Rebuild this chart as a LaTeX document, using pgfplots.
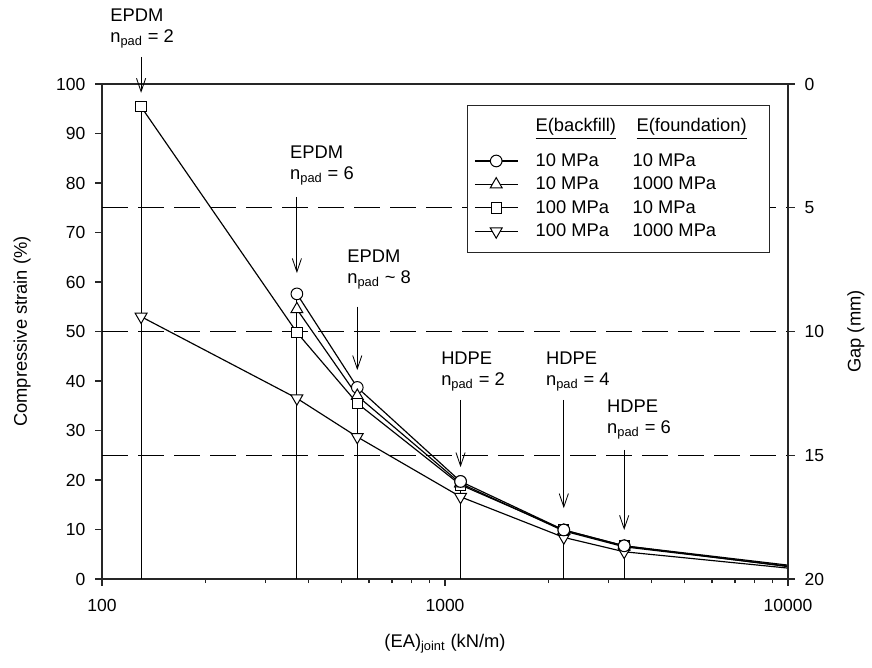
\documentclass[border=0pt]{standalone}
\usepackage{fontspec}
\setmainfont{Liberation Sans}
\usepackage{pgfplots}
\pgfplotsset{compat=1.18}
\usetikzlibrary{arrows.meta,calc}

\newcommand{\lab}{\fontsize{11}{12.5}\selectfont}
\newcommand{\col}[2]{\hspace*{8.5pt}\makebox[58.2pt][l]{#1}\makebox[76pt][l]{#2}}

\begin{document}
\begin{tikzpicture}
\pgfplotsset{
  plotframe/.style={
    tick align=outside,
    major tick length=4pt, minor tick length=2.5pt,
    axis line style={black!85, line width=0.9pt},
    every tick/.style={black!85, line width=0.8pt},
    tick label style={font=\fontsize{10.5}{12}\selectfont},
    /pgf/number format/assume math mode=true,
    label style={font=\lab},
  },
  ser/.style={black, line width=0.7pt, mark size=#1,
    mark options={solid, fill=white, line width=0.6pt}},
  tail/.style={black, line width=0.7pt, forget plot, no marks},
}
\tikzset{
  ann/.style={anchor=north west, inner sep=0pt, align=left, font=\lab},
  arr/.style={-{Straight Barb[length=8pt,width=5.5pt]}, line width=0.5pt},
}
\begin{axis}[
  width=411.6pt, height=297pt, scale only axis,
  xmode=log, xmin=100, xmax=10000,
  plotframe, clip=false,
  ymin=0, ymax=100,
  xtick={100,1000,10000}, xticklabels={100,1000,10000},
  ytick={0,10,...,100},
  xtick pos=bottom, ytick pos=left,
  xticklabel style={yshift=-4.5pt},
  yticklabel style={xshift=-2.5pt},
  xlabel={(EA)\textsubscript{joint} (kN/m)},
  ylabel={Compressive strain (\%)},
  xlabel style={at={(axis description cs:0.5,-0.139)}, anchor=base},
  ylabel style={at={(axis description cs:-0.1166,0.5)}, anchor=center},
  legend style={at={(rel axis cs:0.532,0.958)}, anchor=north west,
    draw=black!85, line width=0.8pt, font=\lab,
    inner xsep=4pt, inner ysep=5.5pt, row sep=0pt,
    nodes={inner xsep=2pt, inner ysep=2.45pt, text depth=0.15em},
    cells={anchor=west}},
  legend image code/.code={
    \draw[mark repeat=2,mark phase=2]
      plot coordinates {(0cm,0cm) (0.45cm,0cm) (0.9cm,0cm)};},
]
% reference lines
\addplot[forget plot, black, line width=0.6pt, dash pattern=on 15.6pt off 6pt]
  coordinates {(100,75) (10000,75)};
\addplot[forget plot, black, line width=0.6pt, dash pattern=on 15.6pt off 6pt]
  coordinates {(100,50) (10000,50)};
\addplot[forget plot, black, line width=0.6pt, dash pattern=on 15.6pt off 6pt]
  coordinates {(100,25) (10000,25)};
% drop lines
\addplot[forget plot, ycomb, black, line width=0.5pt, no marks]
  coordinates {(130,95.4) (370,57.6) (555,38.7) (1110,19.7) (2220,9.9) (3330,6.7)};

% legend header and spacer row
\addlegendimage{empty legend}
\addlegendentry{\hspace*{8.5pt}\makebox[60.6pt][l]{\underline{E(backfill)}}\makebox[73.6pt][l]{\underline{E(foundation)}}}
\addlegendimage{empty legend}
\addlegendentry{\mbox{}}

% tails to 10000 (no markers)
\addplot[tail] coordinates {(3330,6.7) (10000,2.8)};
\addplot[tail] coordinates {(3330,6.5) (10000,2.6)};
\addplot[tail] coordinates {(3330,6.7) (10000,2.5)};
\addplot[tail] coordinates {(3330,5.5) (10000,2.2)};

\addplot[ser=3.5pt, mark=*]
  coordinates {(370,57.6) (555,38.7) (1110,19.7) (2220,9.9) (3330,6.7)};
\addlegendentry{\col{10 MPa}{10 MPa}}
\addplot[ser=4.1pt, mark=triangle*]
  coordinates {(370,54.5) (555,37.0) (1110,19.3) (2220,9.7) (3330,6.5)};
\addlegendentry{\col{10 MPa}{1000 MPa}}
\addplot[ser=3.1pt, mark=square*]
  coordinates {(130,95.4) (370,49.8) (555,35.5) (1110,19.0) (2220,9.9) (3330,6.7)};
\addlegendentry{\col{100 MPa}{10 MPa}}
\addplot[ser=4.1pt, mark=triangle*,
  mark options={solid, fill=white, line width=0.6pt, rotate=180}]
  coordinates {(130,53.0) (370,36.5) (555,28.7) (1110,16.6) (2220,8.4) (3330,5.5)};
\addlegendentry{\col{100 MPa}{1000 MPa}}

% redraw markers so circles sit on top
\addplot[ser=3.1pt, mark=square*, only marks, forget plot]
  coordinates {(1110,19.0) (2220,9.9) (3330,6.7)};
\addplot[ser=4.1pt, mark=triangle*, only marks, forget plot]
  coordinates {(1110,19.3)};
\addplot[ser=3.5pt, mark=*, only marks, forget plot]
  coordinates {(1110,19.7) (2220,9.9) (3330,6.7)};

% annotations
\node[ann] at (axis cs:105.5,115.2) {EPDM\\n\textsubscript{pad} = 2};
\draw[arr] (axis cs:130,105.5) -- (axis cs:130,98.2);
\node[ann] at (axis cs:353,87.5) {EPDM\\n\textsubscript{pad} = 6};
\draw[arr] (axis cs:370,77.2) -- (axis cs:370,61.8);
\node[ann] at (axis cs:518,66.5) {EPDM\\n\textsubscript{pad} \textasciitilde{} 8};
\draw[arr] (axis cs:555,55.0) -- (axis cs:555,42.2);
\node[ann] at (axis cs:973,45.9) {HDPE\\n\textsubscript{pad} = 2};
\draw[arr] (axis cs:1110,36.2) -- (axis cs:1110,22.6);
\node[ann] at (axis cs:1968,45.9) {HDPE\\n\textsubscript{pad} = 4};
\draw[arr] (axis cs:2220,36.2) -- (axis cs:2220,14.3);
\node[ann] at (axis cs:2965,36.2) {HDPE\\n\textsubscript{pad} = 6};
\draw[arr] (axis cs:3330,26.1) -- (axis cs:3330,9.9);

\coordinate (bl) at (rel axis cs:0,0);
\coordinate (tr) at (rel axis cs:1,1);
\end{axis}

\begin{axis}[
  width=411.6pt, height=297pt, scale only axis,
  xmode=log, xmin=100, xmax=10000,
  plotframe,
  ymin=0, ymax=20, y dir=reverse,
  hide x axis, axis y line*=right,
  ytick={0,5,...,20},
  yticklabel style={xshift=2.5pt},
  ylabel={Gap (mm)},
  ylabel style={at={(axis description cs:1.099,0.5)}, anchor=center},
]
\addplot[draw=none, forget plot] coordinates {(100,0) (10000,20)};
\end{axis}

\pgfresetboundingbox
\path[use as bounding box] ($(bl)+(-61.2pt,-53.4pt)$) rectangle ($(tr)+(50.4pt,50.4pt)$);
\end{tikzpicture}
\end{document}
